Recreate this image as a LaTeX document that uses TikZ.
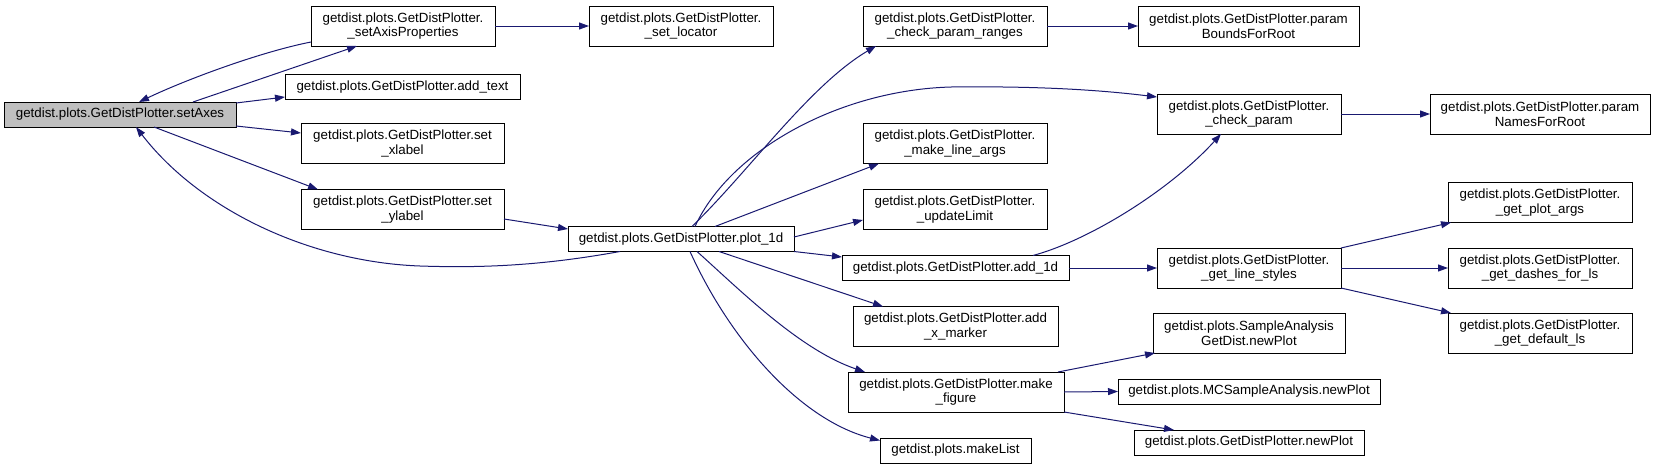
\documentclass[tikz,border=0pt]{standalone}
\usepackage{fontspec}
\setmainfont{Liberation Sans}
\usetikzlibrary{arrows.meta}
\definecolor{edgeblue}{HTML}{191970}
\definecolor{nodegray}{HTML}{BFBFBF}
\begin{document}
\begin{tikzpicture}[x=1pt,y=-1pt,
  fn/.style={draw=black, line width=1pt, rectangle, inner sep=0pt, outer sep=0pt, align=center,
    font=\fontsize{13.33}{14.5}\selectfont, text=black, fill=white},
  one/.style={fn, minimum height=25pt},
  two/.style={fn, minimum height=40pt},
  edge/.style={draw=edgeblue, line width=1pt, -{Triangle[length=10pt,width=7pt]}}]
\useasboundingbox (0,0) rectangle (1656,469);
\node[one, fill=nodegray, minimum width=232pt] (sa) at (120,114.5) {getdist.plots.GetDistPlotter.setAxes};
\node[two, minimum width=184pt] (sap) at (403,26) {getdist.plots.GetDistPlotter.\\\_setAxisProperties};
\node[one, minimum width=235pt] (at) at (402.5,87) {getdist.plots.GetDistPlotter.add\_text};
\node[two, minimum width=203pt] (sx) at (402.5,143.5) {getdist.plots.GetDistPlotter.set\\\_xlabel};
\node[two, minimum width=203pt] (sy) at (402.5,209.5) {getdist.plots.GetDistPlotter.set\\\_ylabel};
\node[two, minimum width=184pt] (sl) at (681,26) {getdist.plots.GetDistPlotter.\\\_set\_locator};
\node[one, minimum width=226pt] (p1) at (681,239) {getdist.plots.GetDistPlotter.plot\_1d};
\node[two, minimum width=184pt] (cpr) at (955,26) {getdist.plots.GetDistPlotter.\\\_check\_param\_ranges};
\node[two, minimum width=184pt] (mla) at (955,143.5) {getdist.plots.GetDistPlotter.\\\_make\_line\_args};
\node[two, minimum width=184pt] (ul) at (955,209.5) {getdist.plots.GetDistPlotter.\\\_updateLimit};
\node[one, minimum width=227pt] (a1) at (955.5,268) {getdist.plots.GetDistPlotter.add\_1d};
\node[two, minimum width=205pt] (axm) at (955.5,326.5) {getdist.plots.GetDistPlotter.add\\\_x\_marker};
\node[two, minimum width=216pt] (mf) at (956,392) {getdist.plots.GetDistPlotter.make\\\_figure};
\node[one, minimum width=151pt] (ml) at (955.5,450.5) {getdist.plots.makeList};
\node[two, minimum width=221pt] (pbr) at (1248.5,26) {getdist.plots.GetDistPlotter.param\\BoundsForRoot};
\node[two, minimum width=184pt] (cp) at (1249,114) {getdist.plots.GetDistPlotter.\\\_check\_param};
\node[two, minimum width=220pt] (pnr) at (1540,114) {getdist.plots.GetDistPlotter.param\\NamesForRoot};
\node[two, minimum width=184pt] (gpa) at (1540,202.5) {getdist.plots.GetDistPlotter.\\\_get\_plot\_args};
\node[two, minimum width=184pt] (gls) at (1249,268) {getdist.plots.GetDistPlotter.\\\_get\_line\_styles};
\node[two, minimum width=184pt] (gdl) at (1540,268) {getdist.plots.GetDistPlotter.\\\_get\_dashes\_for\_ls};
\node[two, minimum width=184pt] (gdf) at (1540,333) {getdist.plots.GetDistPlotter.\\\_get\_default\_ls};
\node[two, minimum width=192pt] (sag) at (1249,333) {getdist.plots.SampleAnalysis\\GetDist.newPlot};
\node[one, minimum width=262pt] (mcs) at (1249,391.5) {getdist.plots.MCSampleAnalysis.newPlot};
\node[one, minimum width=230pt] (gnp) at (1249,442.5) {getdist.plots.GetDistPlotter.newPlot};

\draw[edge] ([xshift=189pt]sa.north west) -- ([xshift=46pt]sap.south west);
\draw[edge] ([yshift=-16pt]sap.west) .. controls (260,52) and (185,80) .. ([xshift=135pt]sa.north west);
\draw[edge] ([yshift=-1pt]sa.north east) -- ([yshift=-10pt]at.west);
\draw[edge] ([yshift=1pt]sa.south east) -- ([yshift=10.5pt]sx.west);
\draw[edge] ([xshift=150pt]sa.south west) -- ([xshift=17pt]sy.north west);
\draw[edge] ([xshift=52pt]p1.south west) .. controls (540,266) and (480,268) .. (420,266) .. controls (310,262) and (200,210) .. ([xshift=132pt]sa.south west);
\draw[edge] (sap.east) -- (sl.west);
\draw[edge] ([yshift=-9.5pt]sy.east) -- ([yshift=10pt]p1.west);
\draw[edge] ([xshift=124pt]p1.north west) .. controls (750,170) and (810,85) .. ([xshift=13pt]cpr.south west);
\draw[edge] ([xshift=127pt]p1.north west) .. controls (730,150) and (840,90) .. (951,87) .. controls (1040,86) and (1100,90) .. ([yshift=17pt]cp.west);
\draw[edge] ([xshift=147pt]p1.north west) -- ([xshift=16pt]mla.south west);
\draw[edge] ([yshift=2pt]p1.east) -- ([yshift=-10.5pt]ul.west);
\draw[edge] (p1.south east) -- ([yshift=11pt]a1.west);
\draw[edge] ([xshift=151pt]p1.south west) -- ([xshift=30pt]axm.north west);
\draw[edge] ([xshift=129pt]p1.south west) .. controls (740,290) and (800,350) .. ([xshift=17pt]mf.north west);
\draw[edge] ([xshift=122pt]p1.south west) .. controls (730,340) and (800,420) .. ([yshift=10pt]ml.west);
\draw[edge] ([xshift=191pt]a1.north west) .. controls (1090,240) and (1170,190) .. ([xshift=64pt]cp.south west);
\draw[edge] (a1.east) -- (gls.west);
\draw[edge] (cpr.east) -- (pbr.west);
\draw[edge] (cp.east) -- (pnr.west);
\draw[edge] (gls.north east) -- ([xshift=3pt]gpa.south west);
\draw[edge] (gls.east) -- (gdl.west);
\draw[edge] (gls.south east) -- ([xshift=3pt]gdf.north west);
\draw[edge] ([xshift=210pt]mf.north west) -- ([xshift=2pt]sag.south west);
\draw[edge] (mf.east) -- (mcs.west);
\draw[edge] (mf.south east) -- ([xshift=40pt]gnp.north west);
\end{tikzpicture}
\end{document}
